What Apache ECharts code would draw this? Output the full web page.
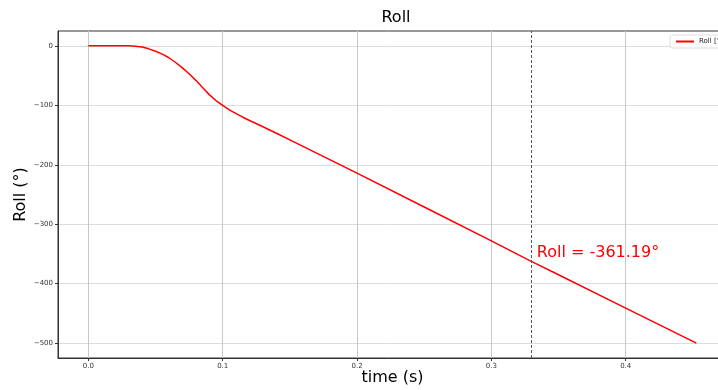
<!DOCTYPE html>
<html>
<head>
<meta charset="utf-8">
<script src="https://cdn.jsdelivr.net/npm/echarts@6/dist/echarts.min.js"></script>
<style>
  html, body { margin: 0; padding: 0; background: #fff; }
  #chart { width: 718px; height: 390px; }
</style>
</head>
<body>
<div id="chart"></div>
<script>
// time in seconds, roll angle in degrees
const times = [0, 0.01, 0.02, 0.03, 0.035, 0.04, 0.045, 0.05, 0.055, 0.06, 0.065, 0.07,
  0.075, 0.08, 0.085, 0.09, 0.095, 0.1, 0.105, 0.11, 0.115, 0.12, 0.13, 0.14, 0.15,
  0.2, 0.25, 0.3, 0.3286, 0.35, 0.4, 0.45, 0.4526];
const roll = [0, 0, 0, 0, -0.5, -2, -5, -9, -14, -20, -28, -37,
  -47, -58, -70, -82, -92, -100, -107.5, -114, -120, -125.5, -136, -147, -158,
  -214, -271, -328, -361.19, -385, -441, -497, -500];
const xTicks = [0, 0.1, 0.2, 0.3, 0.4];
const yTicks = [-500, -400, -300, -200, -100, 0];
const markTime = 0.3286;
const markRoll = -361.19;

const chart = echarts.init(document.getElementById('chart'));
const font = 'DejaVu Sans';
const minus = v => String(v).replace('-', '\u2212');

chart.setOption({
  animation: false,
  textStyle: { fontFamily: font },
  title: {
    text: 'Roll',
    left: 391,
    top: 5,
    textAlign: 'center',
    textStyle: { fontFamily: font, fontSize: 16, fontWeight: 'normal', color: '#000' }
  },
  legend: {
    left: 670,
    top: 35,
    padding: [3, 6, 3, 6],
    backgroundColor: '#fff',
    borderColor: '#ddd',
    borderWidth: 1,
    borderRadius: 2,
    itemWidth: 18,
    itemHeight: 2,
    itemGap: 4,
    icon: 'rect',
    textStyle: { fontFamily: font, fontSize: 7, color: '#222' },
    data: ['Roll [°]']
  },
  grid: {
    left: 58, top: 31, right: -9, bottom: 32,
    outerBoundsMode: 'none',
    containLabel: false,
    show: true, borderColor: '#333', borderWidth: 1
  },
  xAxis: {
    type: 'value',
    min: -0.0226,
    max: 0.4754,
    name: 'time (s)',
    nameLocation: 'middle',
    nameGap: 12,
    nameMoveOverlap: false,
    nameTextStyle: { fontFamily: font, fontSize: 16, color: '#000' },
    axisLine: { show: true, onZero: false, lineStyle: { color: '#333' } },
    axisTick: { show: true, customValues: xTicks, length: 3, lineStyle: { color: '#333' } },
    axisLabel: {
      customValues: xTicks, fontSize: 7, color: '#333', margin: 5,
      formatter: v => v.toFixed(1)
    },
    splitLine: { show: true, lineStyle: { color: '#c8c8c8', width: 1 } }
  },
  yAxis: {
    type: 'value',
    min: -525,
    max: 25,
    name: 'Roll (°)',
    nameLocation: 'middle',
    nameGap: 29,
    nameMoveOverlap: false,
    nameTextStyle: { fontFamily: font, fontSize: 16, color: '#000' },
    axisLine: { show: true, onZero: false, lineStyle: { color: '#333' } },
    axisTick: { show: true, customValues: yTicks, length: 3, lineStyle: { color: '#333' } },
    axisLabel: {
      customValues: yTicks, fontSize: 7, color: '#333', margin: 5,
      formatter: v => minus(v)
    },
    splitLine: { show: true, lineStyle: { color: '#dcdcdc', width: 1 } }
  },
  series: [{
    name: 'Roll [°]',
    type: 'line',
    data: times.map((t, i) => [t, roll[i]]),
    showSymbol: false,
    color: '#ff0000',
    lineStyle: { color: '#ff0000', width: 1.5 },
    markLine: {
      silent: true,
      symbol: 'none',
      label: { show: false },
      lineStyle: { color: '#555', type: [3, 2], width: 1 },
      data: [{ xAxis: markTime }]
    },
    markPoint: {
      silent: true,
      symbol: 'circle',
      symbolSize: 0,
      data: [{ coord: [markTime, markRoll] }],
      label: {
        show: true,
        position: 'right',
        distance: 7,
        offset: [0, -8],
        formatter: 'Roll = ' + markRoll.toFixed(2) + '°',
        fontFamily: font,
        fontSize: 16,
        color: '#ff0000'
      }
    }
  }]
});
</script>
</body>
</html>
